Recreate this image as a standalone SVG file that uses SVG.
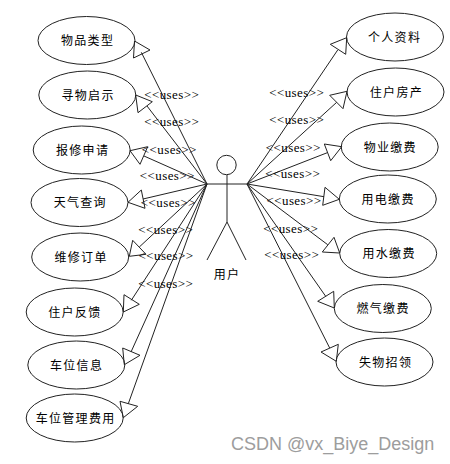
<svg xmlns="http://www.w3.org/2000/svg" width="450" height="464" viewBox="0 0 450 464">
<style>
text{fill:#000}
.n ellipse{fill:none;stroke:#222;stroke-width:1}
.n text{font:12px "Noto Sans CJK SC","Noto Sans",sans-serif;letter-spacing:1.3px;text-anchor:middle}
.c line,.a line,.a circle{stroke:#222;stroke-width:1;fill:#fff}
.c polygon{fill:none;stroke:#222;stroke-width:1}
.u text{font:13px "Liberation Serif",serif;letter-spacing:.4px;text-anchor:middle}
.a text{font:12px "Noto Sans CJK SC","Noto Sans",sans-serif;letter-spacing:1.3px;text-anchor:middle}
.w{font:18px "Liberation Sans",sans-serif;fill:#8c8c8c;opacity:.85}
</style>
<g id="connectors" class="c">
<line x1="207" y1="184" x2="141.3" y2="52.3"/><polygon points="134.5,41 150,50 133.5,58"/>
<line x1="207" y1="184" x2="147" y2="106"/><polygon points="135.7,95 152.3,101.7 138,112.7"/>
<line x1="207" y1="184" x2="144" y2="156"/><polygon points="130,150.7 147.7,146.7 140,164.3"/>
<line x1="207" y1="184" x2="143" y2="199"/><polygon points="128,202.3 141.3,190 145,208.3"/>
<line x1="207" y1="184" x2="139.3" y2="247"/><polygon points="129.3,256.3 132.7,240.3 146,254.3"/>
<line x1="207" y1="184" x2="131.3" y2="300.3"/><polygon points="123.3,312 124,294.7 139.3,304.3"/>
<line x1="207" y1="184" x2="131" y2="352"/><polygon points="124.3,364.7 122.7,348 140,355.3"/>
<line x1="207" y1="184" x2="128.3" y2="403.7"/><polygon points="123.3,417.7 120,401.3 137.7,406.3"/>
<line x1="247" y1="184" x2="337.7" y2="50"/><polygon points="346.7,37.7 330.3,44.3 345.7,54.3"/>
<line x1="247" y1="184" x2="336.7" y2="102.3"/><polygon points="347,91.3 329.7,95.3 343,108.7"/>
<line x1="247" y1="184" x2="327.3" y2="152.7"/><polygon points="341.7,146.7 324.3,144 330.7,160.7"/>
<line x1="247" y1="184" x2="324" y2="196.7"/><polygon points="339.3,199.3 325,187.3 322.7,205.3"/>
<line x1="247" y1="184" x2="327.7" y2="244.7"/><polygon points="339.7,253 334,237.3 322.3,252"/>
<line x1="247" y1="184" x2="325.7" y2="296.3"/><polygon points="334.3,308 333.7,291.3 317.7,301.3"/>
<line x1="247" y1="184" x2="329.7" y2="348"/><polygon points="336.3,361.3 338.3,344.3 321,352"/>
</g>
<g id="uses-labels" class="u">
<text x="171.7" y="99">&lt;&lt;uses&gt;&gt;</text>
<text x="171.7" y="126">&lt;&lt;uses&gt;&gt;</text>
<text x="169.3" y="154">&lt;&lt;uses&gt;&gt;</text>
<text x="167.3" y="180">&lt;&lt;uses&gt;&gt;</text>
<text x="168.3" y="207">&lt;&lt;uses&gt;&gt;</text>
<text x="165.7" y="234">&lt;&lt;uses&gt;&gt;</text>
<text x="166" y="260">&lt;&lt;uses&gt;&gt;</text>
<text x="165.7" y="288">&lt;&lt;uses&gt;&gt;</text>
<text x="296.7" y="97">&lt;&lt;uses&gt;&gt;</text>
<text x="296.7" y="124">&lt;&lt;uses&gt;&gt;</text>
<text x="293.3" y="152">&lt;&lt;uses&gt;&gt;</text>
<text x="292.7" y="178">&lt;&lt;uses&gt;&gt;</text>
<text x="294" y="205">&lt;&lt;uses&gt;&gt;</text>
<text x="290.7" y="233">&lt;&lt;uses&gt;&gt;</text>
<text x="291.7" y="259">&lt;&lt;uses&gt;&gt;</text>
</g>
<g id="actor" class="a">
<circle cx="226.5" cy="165" r="9.7"/>
<line x1="227" y1="175" x2="227" y2="222"/>
<line x1="207" y1="184" x2="247" y2="184"/>
<line x1="227" y1="222" x2="207" y2="260"/>
<line x1="227" y1="222" x2="246" y2="260"/>
<text x="227" y="279">用户</text>
</g>
<g id="n1" class="n"><ellipse cx="86.5" cy="40.5" rx="48.5" ry="24"/><text x="87.6" y="45">物品类型</text></g>
<g id="n2" class="n"><ellipse cx="87.3" cy="95" rx="48.5" ry="24"/><text x="88.1" y="100">寻物启示</text></g>
<g id="n3" class="n"><ellipse cx="81.7" cy="150" rx="48.5" ry="24"/><text x="82.6" y="155">报修申请</text></g>
<g id="n4" class="n"><ellipse cx="79.5" cy="202.5" rx="48.5" ry="24"/><text x="80.3" y="207">天气查询</text></g>
<g id="n5" class="n"><ellipse cx="80.2" cy="257" rx="48.5" ry="24"/><text x="81.1" y="262">维修订单</text></g>
<g id="n6" class="n"><ellipse cx="74.7" cy="312" rx="48.5" ry="24"/><text x="74.9" y="317">住户反馈</text></g>
<g id="n7" class="n"><ellipse cx="76.3" cy="365" rx="48.5" ry="24"/><text x="76.6" y="370">车位信息</text></g>
<g id="n8" class="n"><ellipse cx="74.7" cy="418" rx="48.5" ry="24"/><text x="75.6" y="423">车位管理费用</text></g>
<g id="n9" class="n"><ellipse cx="395" cy="37" rx="48.5" ry="24"/><text x="394.6" y="42">个人资料</text></g>
<g id="n10" class="n"><ellipse cx="395.5" cy="92" rx="48.5" ry="24"/><text x="396.4" y="97">住户房产</text></g>
<g id="n11" class="n"><ellipse cx="389.7" cy="147" rx="48.5" ry="24"/><text x="390.3" y="152">物业缴费</text></g>
<g id="n12" class="n"><ellipse cx="387.8" cy="199" rx="48.5" ry="24"/><text x="388.1" y="204">用电缴费</text></g>
<g id="n13" class="n"><ellipse cx="388.2" cy="253.5" rx="48.5" ry="24"/><text x="389.1" y="258">用水缴费</text></g>
<g id="n14" class="n"><ellipse cx="382.8" cy="308.5" rx="48.5" ry="24"/><text x="383.1" y="313">燃气缴费</text></g>
<g id="n15" class="n"><ellipse cx="384.5" cy="362" rx="48.5" ry="24"/><text x="385.6" y="367">失物招领</text></g>
<text class="w" x="231" y="450">CSDN @vx_Biye_Design</text>
</svg>
